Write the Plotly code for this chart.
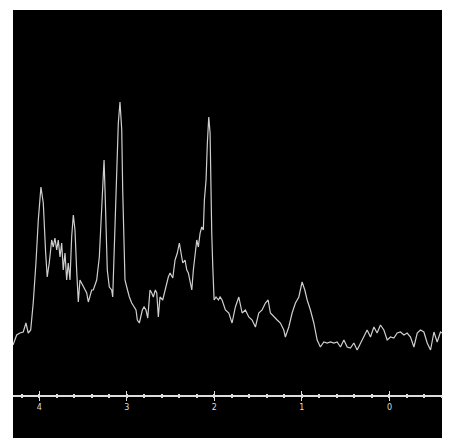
import plotly.graph_objects as go

# chemical shift (ppm) and signal intensity
ppm = [4.300, 4.258, 4.221, 4.183, 4.152, 4.126, 4.098, 4.069, 4.038, 4.011,
       3.981, 3.954, 3.927, 3.909, 3.886, 3.858, 3.840, 3.821, 3.801, 3.783,
       3.763, 3.744, 3.726, 3.706, 3.687, 3.669, 3.649, 3.630, 3.611, 3.592,
       3.573, 3.554, 3.535, 3.497, 3.458, 3.440, 3.401, 3.383, 3.344, 3.314,
       3.287, 3.269, 3.260, 3.249, 3.238, 3.223, 3.200, 3.173, 3.161, 3.146,
       3.123, 3.097, 3.078, 3.058, 3.047, 3.032, 3.021, 3.001, 2.971, 2.944,
       2.918, 2.895, 2.880, 2.857, 2.841, 2.823, 2.803, 2.781, 2.761, 2.735,
       2.715, 2.697, 2.674, 2.658, 2.640, 2.621, 2.590, 2.563, 2.526, 2.506,
       2.475, 2.449, 2.423, 2.400, 2.384, 2.361, 2.335, 2.315, 2.297, 2.278,
       2.258, 2.240, 2.221, 2.201, 2.183, 2.163, 2.144, 2.126, 2.114, 2.095,
       2.080, 2.064, 2.049, 2.041, 2.030, 2.018, 2.003, 1.981, 1.954, 1.935,
       1.912, 1.874, 1.835, 1.798, 1.760, 1.721, 1.683, 1.646, 1.607, 1.569,
       1.531, 1.493, 1.455, 1.417, 1.386, 1.360, 1.321, 1.283, 1.246, 1.207,
       1.189, 1.150, 1.112, 1.074, 1.035, 0.998, 0.967, 0.940, 0.903, 0.864,
       0.826, 0.789, 0.750, 0.712, 0.674, 0.635, 0.598, 0.560, 0.521, 0.483,
       0.446, 0.407, 0.369, 0.331, 0.293, 0.255, 0.217, 0.178, 0.141, 0.103,
       0.064, 0.026, -0.012, -0.050, -0.088, -0.126, -0.165, -0.202, -0.240, -0.279,
       -0.317, -0.354, -0.393, -0.431, -0.469, -0.508, -0.545, -0.583, -0.602]

intensity = [50, 60, 62, 63, 72, 62, 65, 92, 132, 175,
             208, 192, 142, 118, 132, 155, 148, 157, 145, 155,
             138, 152, 125, 142, 115, 132, 115, 158, 180, 165,
             125, 93, 115, 108, 102, 93, 105, 105, 115, 138,
             188, 228, 235, 205, 165, 125, 108, 105, 98, 138,
             222, 272, 293, 265, 205, 155, 115, 108, 98, 92,
             88, 85, 75, 72, 78, 85, 88, 85, 77, 105,
             102, 98, 105, 102, 78, 98, 95, 105, 118, 122,
             117, 135, 142, 152, 145, 132, 135, 125, 122, 115,
             105, 125, 138, 155, 148, 162, 168, 165, 195, 215,
             252, 278, 262, 208, 162, 128, 95, 98, 95, 98,
             95, 85, 82, 72, 88, 98, 82, 85, 78, 75,
             68, 82, 85, 92, 95, 82, 78, 75, 72, 65,
             58, 68, 82, 92, 98, 113, 105, 95, 85, 72,
             55, 48, 53, 52, 53, 52, 53, 48, 55, 48,
             47, 52, 45, 52, 58, 65, 58, 68, 62, 70,
             65, 55, 58, 57, 62, 63, 60, 62, 58, 48,
             62, 65, 63, 52, 45, 63, 53, 63, 62]

tick_vals = [4, 3, 2, 1, 0]
tick_text = ["4", "3", "2", "1", "0"]

fig = go.Figure()
fig.add_trace(go.Scatter(x=ppm, y=intensity, mode="lines",
                         line=dict(color="#cfcfcf", width=1.2),
                         hoverinfo="skip", showlegend=False))
# empty trace on a second x axis, only to get ticks crossing the axis line
fig.add_trace(go.Scatter(x=[4.3, -0.6], y=[None, None], xaxis="x2",
                         showlegend=False, hoverinfo="skip"))

axis_common = dict(range=[4.30, -0.60], showgrid=False, zeroline=False,
                   tickvals=tick_vals, tickcolor="#dddddd", tickwidth=1.3, ticklen=4)

# page body has an 8px margin, so the figure is 8px smaller than the window
fig.update_layout(
    width=444, height=430,
    margin=dict(l=5, r=10, t=2, b=43),
    paper_bgcolor="white", plot_bgcolor="black",
    xaxis=dict(**axis_common, ticks="outside", ticktext=tick_text,
               showline=True, linecolor="#dddddd", linewidth=1.5,
               tickfont=dict(family="DejaVu Sans", size=8, color="#dddddd"),
               minor=dict(ticks="outside", dtick=0.2, tick0=0, ticklen=1,
                          tickcolor="#dddddd", tickwidth=1.5)),
    xaxis2=dict(**axis_common, ticks="inside", overlaying="x", side="bottom",
                showticklabels=False, anchor="y",
                minor=dict(ticks="inside", dtick=0.2, tick0=0, ticklen=1,
                           tickcolor="#dddddd", tickwidth=1.5)),
    yaxis=dict(range=[0, 385], visible=False),
    shapes=[dict(type="rect", xref="paper", yref="paper", x0=0, x1=1,
                 y0=-43 / 385, y1=0, fillcolor="black", line=dict(width=0),
                 layer="below")],
)

fig.write_html("out.html")
